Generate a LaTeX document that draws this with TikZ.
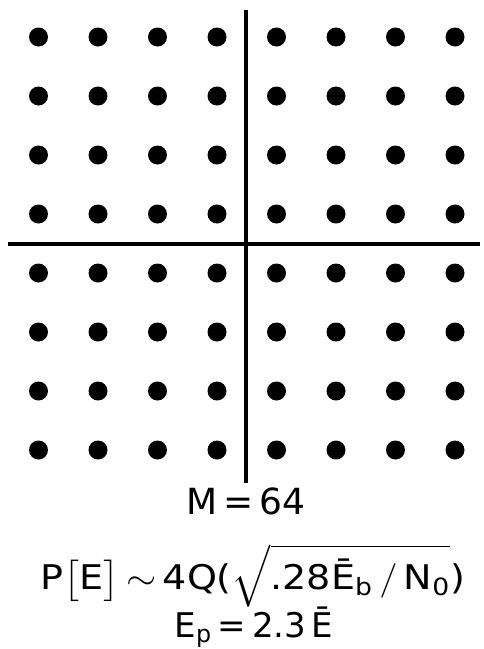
\documentclass[tikz,border=0pt]{standalone}
\usepackage{amsmath}
\usepackage{fontspec}
\setmainfont{DejaVu Sans}
\tikzset{
  axisline/.style={line width=2pt},
  signalpt/.style={fill=black},
  label/.style={inner sep=0pt}
}
\begin{document}
\begin{tikzpicture}[x=0.5pt,y=-0.5pt]
  \useasboundingbox (0,0) rectangle (483,649);
  % axes
  \draw[axisline] (246,10) -- (246,483);
  \draw[axisline] (8,244) -- (480,244);
  % 8x8 signal points
  \foreach \i in {0,...,7}
    \foreach \j in {0,...,7}
      \fill[signalpt] ({38.5+59.5*\i},{37+59*\j}) circle (4.75pt);
  \node[label] (mlabel) at (246,501) {\fontsize{18}{20}\selectfont M\,=\,64};
  \node[label] (perror) at (253,576) {\scalebox{1.12}[1]{\fontsize{17}{18}\selectfont P$\bigl[$E$\bigr]$\,$\sim$\,4Q($\sqrt{\text{.28\=E}_{\text{b}}\,/\,\text{N}_{\text{0}}}$)}};
  \node[label] (epeak) at (254,627) {\fontsize{17}{18}\selectfont E$_{\text{p}}$\,=\,2.3\,\=E};
\end{tikzpicture}
\end{document}
